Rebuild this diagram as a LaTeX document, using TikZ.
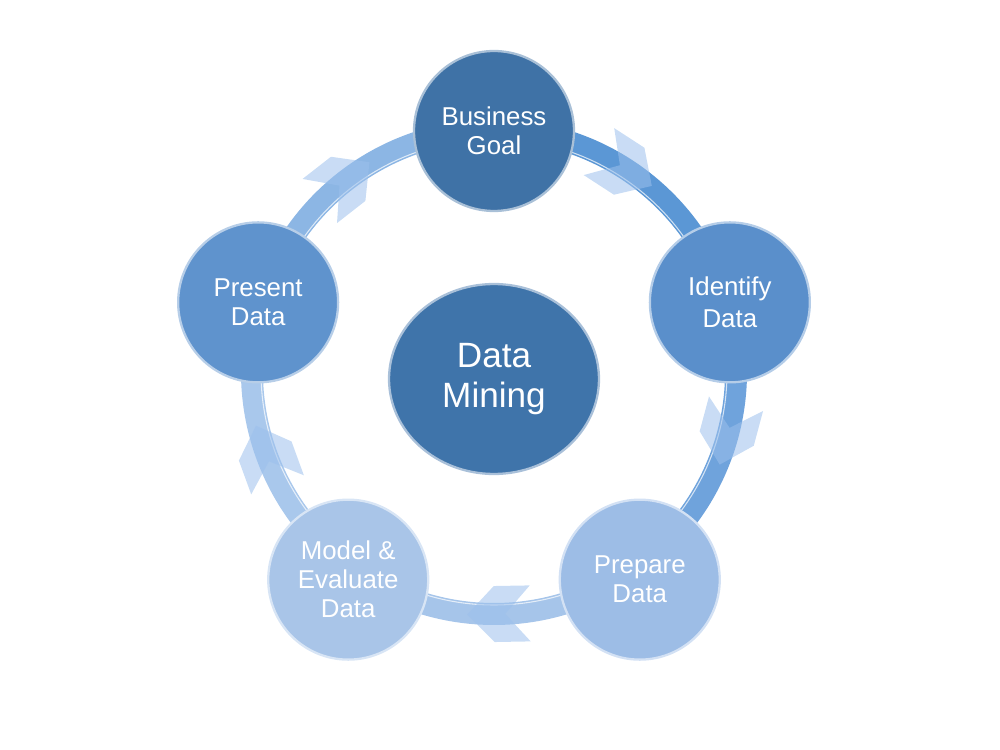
\documentclass[tikz,border=0pt]{standalone}
\usepackage{fontspec}
\setmainfont{Liberation Sans}
\usetikzlibrary{shapes.geometric}

\definecolor{goalblue}{HTML}{3F72A6}
\definecolor{identblue}{HTML}{5A8FCB}
\definecolor{prepblue}{HTML}{9DBDE6}
\definecolor{modelblue}{HTML}{A9C5E8}
\definecolor{presblue}{HTML}{5F93CD}
\definecolor{mineblue}{HTML}{3F74AA}
\definecolor{chevblue}{HTML}{9CC0EC}
% ring segments
\definecolor{ringA}{HTML}{5B97D5}
\definecolor{ringB}{HTML}{6FA3DC}
\definecolor{ringC}{HTML}{A6C5EA}
\definecolor{ringD}{HTML}{A9C8EC}
\definecolor{ringE}{HTML}{8CB6E4}

\tikzset{
    stage/.style={circle, minimum size=3.2cm, inner sep=0pt, align=center,
                  text=white, draw=white!55!#1, fill=#1, line width=1.3pt,
                  font=\fontsize{14.7}{16.5}\selectfont},
    hub/.style={ellipse, minimum width=4.2cm, minimum height=3.8cm, align=center,
                text=white, draw=white!55!mineblue, fill=mineblue, line width=1.3pt,
                font=\fontsize{20}{23}\selectfont},
    ring/.style={line width=0.44cm, line cap=butt},
    chevron/.style={fill=chevblue, fill opacity=0.55}
}

\begin{document}
\begin{tikzpicture}[x=0.02cm, y=0.02cm]

\useasboundingbox (-494,-371) rectangle (506,379);

\begin{scope}[shift={(0,7)}]
%-------------------------------------------- Ring
\draw[ring, ringA] (90:242) arc (90:18:242);       % Goal -> Identify
\draw[ring, ringB] (18:242) arc (18:-54:242);      % Identify -> Prepare
\draw[ring, ringC] (-54:242) arc (-54:-126:242);   % Prepare -> Model
\draw[ring, ringD] (-126:242) arc (-126:-198:242); % Model -> Present
\draw[ring, ringE] (162:242) arc (162:90:242);     % Present -> Goal
\draw[white, line width=.6pt, opacity=.7] (0,0) circle (233);    % inner highlight

%-------------------------------------------- Chevrons (clockwise)
\fill[chevron, shift={(57:242)}, rotate=-33]
    (31,0)--(4,28)--(-32,28)--(-7,0)--(-32,-28)--(4,-28)--cycle;
\fill[chevron, shift={(-15:242)}, rotate=-105]
    (31,0)--(4,28)--(-32,28)--(-7,0)--(-32,-28)--(4,-28)--cycle;
\fill[chevron, shift={(-89:242)}, rotate=-179]
    (31,0)--(4,28)--(-32,28)--(-7,0)--(-32,-28)--(4,-28)--cycle;
\fill[chevron, shift={(-160:242)}, rotate=-250]
    (31,0)--(4,28)--(-32,28)--(-7,0)--(-32,-28)--(4,-28)--cycle;
\fill[chevron, shift={(128:242)}, rotate=38]
    (31,0)--(4,28)--(-32,28)--(-7,0)--(-32,-28)--(4,-28)--cycle;
\end{scope}

%-------------------------------------------- Stages
\node[stage=goalblue]  (goal)     at (90:248)   {Business\\Goal};
\node[stage=identblue] (identify) at (18:248)   {Identify\\[2pt]Data};
\node[stage=prepblue]  (prepare)  at (-54:248)  {Prepare\\Data};
\node[stage=modelblue] (model)    at (-126:248) {Model \&\\Evaluate\\Data};
\node[stage=presblue]  (present)  at (162:248)  {Present\\Data};

%-------------------------------------------- Centre
\node[hub] (mining) at (0,0) {Data\\Mining};

\end{tikzpicture}
\end{document}
